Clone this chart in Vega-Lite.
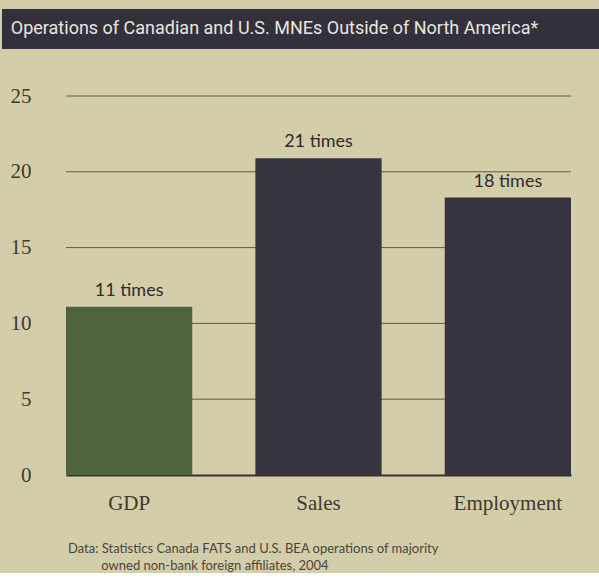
{
  "$schema": "https://vega.github.io/schema/vega-lite/v6.json",
  "background": "#d4cdaa",
  "padding": {"left": 2, "top": 9, "right": 0, "bottom": 0},
  "spacing": 36,
  "title": {
    "text": ["Data: Statistics Canada FATS and U.S. BEA operations of majority", "\u200b\u00a0\u00a0\u00a0\u00a0\u00a0\u00a0\u00a0\u00a0\u00a0\u00a0owned non-bank foreign affiliates, 2004"],
    "orient": "bottom",
    "anchor": "start",
    "dx": 66,
    "offset": 30,
    "font": "Lato",
    "fontSize": 13,
    "fontWeight": "normal",
    "color": "#4a4538",
    "lineHeight": 17
  },
  "vconcat": [
    {
      "width": 597,
      "height": 40,
      "view": {"fill": "#33303b", "stroke": null},
      "data": {"values": [{"title": "Operations of Canadian and U.S. MNEs Outside of North America*"}]},
      "mark": {"type": "text", "align": "center", "baseline": "middle", "dx": -26, "font": "Roboto", "fontSize": 18, "color": "#e8e6df"},
      "encoding": {"text": {"field": "title"}}
    },
    {
      "width": 569,
      "height": 379,
      "view": {"stroke": null},
      "layer": [
        {
          "data": {"values": [{"g": 5}, {"g": 10}, {"g": 15}, {"g": 20}, {"g": 25}]},
          "mark": {"type": "rule", "color": "#5f594a", "strokeWidth": 1},
          "encoding": {
            "x": {
              "datum": "GDP", "bandPosition": 0, "type": "nominal",
              "axis": {"bandPosition": 0.5, "title": null, "labelAngle": 0, "ticks": false, "domain": true, "domainColor": "#3a2f2c", "domainWidth": 2, "labelFont": "Liberation Serif", "labelFontSize": 21, "labelColor": "#3d3a30", "labelPadding": 17, "grid": false}
            },
            "x2": {"datum": "Employment", "bandPosition": 1},
            "y": {"field": "g", "type": "quantitative"}
          }
        },
        {
          "data": {"values": [
            {"measure": "GDP", "value": 11.1, "label": "11 times"},
            {"measure": "Sales", "value": 20.9, "label": "21 times"},
            {"measure": "Employment", "value": 18.3, "label": "18 times"}
          ]},
          "encoding": {
            "x": {
              "field": "measure", "type": "nominal", "sort": null,
              "scale": {"domain": ["GDP", "Sales", "Employment"], "range": [64, 569], "paddingInner": 0.3333, "paddingOuter": 0},
              "axis": {"bandPosition": 0.5, "title": null, "labelAngle": 0, "ticks": false, "domain": true, "domainColor": "#3a2f2c", "domainWidth": 2, "labelFont": "Liberation Serif", "labelFontSize": 21, "labelColor": "#3d3a30", "labelPadding": 17, "grid": false}
            },
            "y": {
              "field": "value", "type": "quantitative",
              "scale": {"domain": [0, 25], "nice": false},
              "axis": {"title": null, "values": [0, 5, 10, 15, 20, 25], "domain": false, "ticks": false, "grid": false, "labelFont": "Liberation Serif", "labelFontSize": 21, "labelColor": "#3d3a30", "labelPadding": -29}
            }
          },
          "layer": [
            {
              "mark": {"type": "bar"},
              "encoding": {
                "color": {"field": "measure", "type": "nominal", "scale": {"domain": ["GDP", "Sales", "Employment"], "range": ["#4f643d", "#38343f", "#38343f"]}, "legend": null}
              }
            },
            {
              "mark": {"type": "text", "baseline": "bottom", "dy": -7, "font": "Lato", "fontSize": 18, "color": "#2e2b2a"},
              "encoding": {
                "text": {"field": "label"}
              }
            }
          ]
        }
      ]
    }
  ],
  "config": {
    "view": {"stroke": null}
  }
}
